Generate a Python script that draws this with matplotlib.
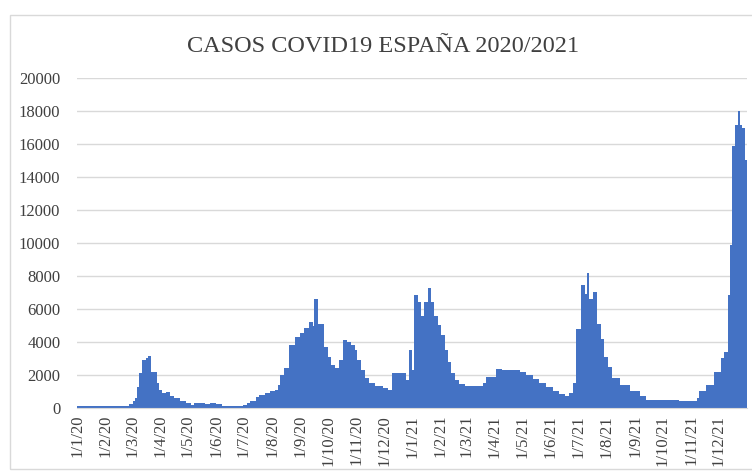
"""
Casos COVID19 en España 2020/2021, gráfico de columnas diarias (estilo Excel).

Output: out.png
"""
import numpy as np
import pandas as pd
import matplotlib
matplotlib.use("Agg")
import matplotlib.pyplot as plt
from matplotlib.patches import Rectangle

TITLE = "CASOS COVID19 ESPAÑA 2020/2021"

# fechas donde cambia el valor y casos desde esa fecha
change_dates = [
    "2020-01-01", "2020-02-27", "2020-03-02", "2020-03-04", "2020-03-07",
    "2020-03-09", "2020-03-12", "2020-03-16", "2020-03-19", "2020-03-22",
    "2020-03-28", "2020-03-31", "2020-04-03", "2020-04-07", "2020-04-11",
    "2020-04-16", "2020-04-22", "2020-04-29", "2020-05-04", "2020-05-08",
    "2020-05-20", "2020-05-25", "2020-06-01", "2020-06-07", "2020-06-21",
    "2020-06-30", "2020-07-04", "2020-07-08", "2020-07-14", "2020-07-18",
    "2020-07-24", "2020-07-30", "2020-08-04", "2020-08-07", "2020-08-10",
    "2020-08-14", "2020-08-19", "2020-08-26", "2020-08-31", "2020-09-05",
    "2020-09-10", "2020-09-14", "2020-09-16", "2020-09-20", "2020-09-27",
    "2020-10-01", "2020-10-04", "2020-10-08", "2020-10-13", "2020-10-17",
    "2020-10-22", "2020-10-26", "2020-10-30", "2020-11-02", "2020-11-06",
    "2020-11-10", "2020-11-15", "2020-11-21", "2020-11-30", "2020-12-05",
    "2020-12-10", "2020-12-25", "2020-12-28", "2021-01-01", "2021-01-03",
    "2021-01-07", "2021-01-10", "2021-01-14", "2021-01-18", "2021-01-21",
    "2021-01-25", "2021-01-29", "2021-02-01", "2021-02-05", "2021-02-09",
    "2021-02-12", "2021-02-16", "2021-02-21", "2021-02-27", "2021-03-19",
    "2021-03-22", "2021-04-02", "2021-04-09", "2021-04-28", "2021-05-05",
    "2021-05-12", "2021-05-19", "2021-05-27", "2021-06-03", "2021-06-10",
    "2021-06-16", "2021-06-21", "2021-06-25", "2021-06-28", "2021-07-04",
    "2021-07-08", "2021-07-10", "2021-07-13", "2021-07-17", "2021-07-21",
    "2021-07-26", "2021-07-29", "2021-08-02", "2021-08-07", "2021-08-15",
    "2021-08-26", "2021-09-06", "2021-09-13", "2021-10-19", "2021-11-07",
    "2021-11-10", "2021-11-17", "2021-11-26", "2021-12-04", "2021-12-07",
    "2021-12-11", "2021-12-13", "2021-12-16", "2021-12-19", "2021-12-22",
    "2021-12-24", "2021-12-27", "2021-12-30",
]
cases = [
    100, 250, 400, 600, 1300,
    2100, 2900, 3000, 3150, 2200,
    1500, 1100, 900, 950, 750,
    600, 450, 300, 180, 280,
    250, 300, 220, 150, 130,
    200, 300, 450, 650, 800,
    900, 1000, 1100, 1400, 2000,
    2450, 3800, 4300, 4550, 4850,
    5200, 4950, 6600, 5100, 3700,
    3100, 2600, 2450, 2900, 4150,
    4000, 3800, 3500, 2900, 2300,
    1800, 1500, 1350, 1200, 1100,
    2100, 1700, 3500, 2300, 6850,
    6450, 5550, 6450, 7250, 6450,
    5550, 5000, 4400, 3500, 2800,
    2100, 1700, 1430, 1330, 1500,
    1900, 2350, 2300, 2200, 2000,
    1750, 1500, 1250, 1050, 850,
    700, 900, 1500, 4800, 7450,
    6900, 8200, 6600, 7000, 5100,
    4200, 3100, 2500, 1800, 1400,
    1000, 750, 500, 450, 600,
    1000, 1400, 2200, 3000, 3400,
    6850, 9900, 15900, 17150, 18000,
    17150, 16950, 15000,
]
end_date = "2022-01-01"

month_starts = [
    "2020-01-01", "2020-02-01", "2020-03-01", "2020-04-01", "2020-05-01",
    "2020-06-01", "2020-07-01", "2020-08-01", "2020-09-01", "2020-10-01",
    "2020-11-01", "2020-12-01", "2021-01-01", "2021-02-01", "2021-03-01",
    "2021-04-01", "2021-05-01", "2021-06-01", "2021-07-01", "2021-08-01",
    "2021-09-01", "2021-10-01", "2021-11-01", "2021-12-01",
]
month_labels = [
    "1/1/20", "1/2/20", "1/3/20", "1/4/20", "1/5/20", "1/6/20",
    "1/7/20", "1/8/20", "1/9/20", "1/10/20", "1/11/20", "1/12/20",
    "1/1/21", "1/2/21", "1/3/21", "1/4/21", "1/5/21", "1/6/21",
    "1/7/21", "1/8/21", "1/9/21", "1/10/21", "1/11/21", "1/12/21",
]
y_ticks = list(range(0, 20001, 2000))

BLUE = "#4472C4"
GRID = "#d9d9d9"
TEXT = "#404040"


def main():
    plt.rcParams["font.family"] = ["Liberation Serif", "DejaVu Serif"]

    fig = plt.figure(figsize=(7.52, 4.73), dpi=100)
    ax = fig.add_axes([77/752, 1 - 408/473, 670/752, 330/473])

    x = pd.to_datetime(change_dates + [end_date])
    y = np.array(cases + [cases[-1]])
    ax.fill_between(x, y, step="post", color=BLUE, lw=0, zorder=2)

    ax.set_xlim(pd.Timestamp(change_dates[0]), pd.Timestamp(end_date))
    ax.set_ylim(0, 20000)

    ax.set_yticks(y_ticks)
    ax.set_yticklabels([str(v) for v in y_ticks], fontsize=12, color=TEXT)
    ax.set_xticks(pd.to_datetime(month_starts))
    ax.set_xticklabels(month_labels, rotation=90, fontsize=12, color=TEXT,
                       ha="center", va="top")
    ax.tick_params(axis="y", length=0, pad=12)
    ax.tick_params(axis="x", length=0, pad=5)

    ax.grid(True, axis="y", color=GRID, lw=1, zorder=0)
    ax.set_axisbelow(True)
    for side in ["left", "right", "top"]:
        ax.spines[side].set_visible(False)
    ax.spines["bottom"].set_color(GRID)

    fig.text(383/752, 1 - 47/473, TITLE, ha="center", va="center",
             fontsize=17.5, color=TEXT)

    # marco del gráfico
    fig.patches.append(Rectangle((10/752, 4/473), 0.99, 1 - 19/473,
                                 transform=fig.transFigure, fill=False,
                                 edgecolor=GRID, lw=1))

    fig.savefig("out.png", dpi=100)


if __name__ == "__main__":
    main()
